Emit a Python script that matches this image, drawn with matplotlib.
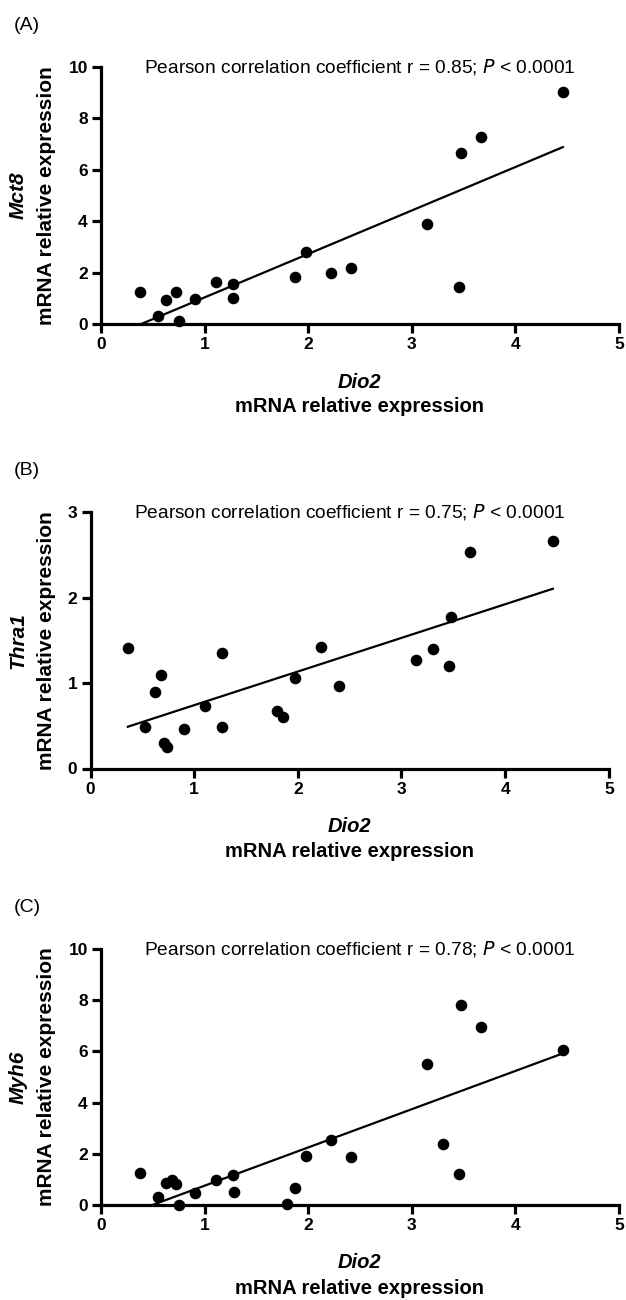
import numpy as np
import matplotlib
matplotlib.use('Agg')
import matplotlib.pyplot as plt

plt.rcParams['font.family'] = ['Liberation Sans', 'DejaVu Sans']

# panel A: Dio2 vs Mct8
dio2_a = [0.38, 0.55, 0.63, 0.72, 0.75, 0.91, 1.11, 1.27, 1.27, 1.87, 1.98, 2.22, 2.41,
          3.15, 3.46, 3.48, 3.67, 4.46]
mct8 = [1.23, 0.31, 0.94, 1.24, 0.13, 0.97, 1.65, 1.56, 1.02, 1.83, 2.80, 2.00, 2.17,
        3.88, 1.45, 6.66, 7.29, 9.02]

# panel B: Dio2 vs Thra1
dio2_b = [0.36, 0.53, 0.62, 0.68, 0.71, 0.74, 0.90, 1.10, 1.27, 1.27, 1.80, 1.86, 1.97,
          2.22, 2.40, 3.14, 3.30, 3.46, 3.48, 3.66, 4.46]
thra1 = [1.41, 0.48, 0.89, 1.09, 0.30, 0.25, 0.46, 0.73, 1.35, 0.49, 0.67, 0.60, 1.06,
         1.42, 0.97, 1.27, 1.40, 1.20, 1.77, 2.53, 2.66]

# panel C: Dio2 vs Myh6
dio2_c = [0.38, 0.55, 0.63, 0.69, 0.72, 0.75, 0.91, 1.11, 1.27, 1.28, 1.80, 1.87, 1.98,
          2.22, 2.41, 3.15, 3.30, 3.46, 3.48, 3.67, 4.46]
myh6 = [1.25, 0.31, 0.85, 0.96, 0.82, 0.00, 0.47, 0.96, 1.19, 0.50, 0.05, 0.68, 1.90,
        2.53, 1.88, 5.52, 2.40, 1.23, 7.82, 6.96, 6.06]

panels = [
    ('(A)', 'Mct8', dio2_a, mct8, 10, [0, 2, 4, 6, 8, 10], '0.85',
     [101, 67, 618.8, 324]),
    ('(B)', 'Thra1', dio2_b, thra1, 3, [0, 1, 2, 3], '0.75',
     [90.5, 512, 608.8, 768.5]),
    ('(C)', 'Myh6', dio2_c, myh6, 10, [0, 2, 4, 6, 8, 10], '0.78',
     [101, 949, 618.8, 1205]),
]

W, H = 626, 1300
fig = plt.figure(figsize=(W / 100, H / 100), dpi=100)

for letter, gene, x, y, ymax, yticks, r, box in panels:
    x0, top, x1, y0 = box
    ax = fig.add_axes([x0 / W, 1 - y0 / H, (x1 - x0) / W, (y0 - top) / H])
    x = np.array(x)
    y = np.array(y)

    # linear regression line over the data range
    slope, icpt = np.polyfit(x, y, 1)
    xs = np.array([x.min(), x.max()])
    ax.plot(xs, slope * xs + icpt, color='black', lw=1.6, zorder=2)
    ax.scatter(x, y, s=70, color='black', zorder=3, clip_on=False, linewidths=0)

    ax.set_xlim(0, 5)
    ax.set_ylim(0, ymax)
    ax.set_xticks([0, 1, 2, 3, 4, 5])
    ax.set_yticks(yticks)
    for side in ['top', 'right']:
        ax.spines[side].set_visible(False)
    for side in ['left', 'bottom']:
        ax.spines[side].set_linewidth(2.3)
    ax.tick_params(width=2.3, length=6.5, labelsize=12.5, pad=3)
    for lab in ax.get_xticklabels() + ax.get_yticklabels():
        lab.set_fontweight('bold')

    ax.text(2.5, ymax, 'Pearson correlation coefficient r = ' + r + '; $\\it{P}$ < 0.0001',
            ha='center', va='center', fontsize=13.8)

    ax.annotate('Dio2', xy=(0.5, 0), xycoords='axes fraction', xytext=(0, -58 * 0.72),
                textcoords='offset points', ha='center', va='center',
                fontsize=14.5, fontweight='bold', style='italic')
    ax.annotate('mRNA relative expression', xy=(0.5, 0), xycoords='axes fraction',
                xytext=(0, -83 * 0.72), textcoords='offset points', ha='center',
                va='center', fontsize=14.5, fontweight='bold')

    ymid = 1 - (top + y0) / 2 / H
    fig.text(18 / W, ymid, gene, rotation=90, ha='center', va='center',
             fontsize=15, fontweight='bold', style='italic')
    fig.text(47 / W, ymid, 'mRNA relative expression', rotation=90, ha='center',
             va='center', fontsize=15, fontweight='bold')
    fig.text(14 / W, 1 - (top - 42) / H, letter, ha='left', va='center', fontsize=14)

fig.savefig('out.png', dpi=100)
